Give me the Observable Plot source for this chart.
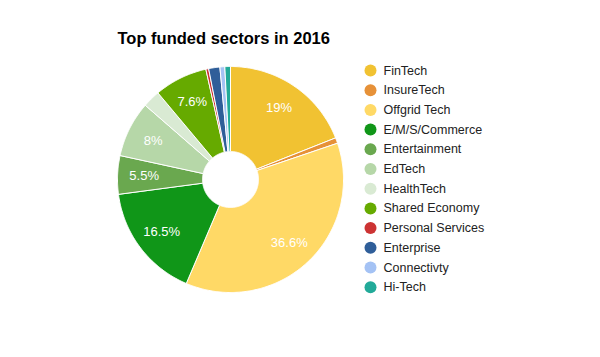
<!DOCTYPE html>
<html>
<head>
<meta charset="utf-8">
<script src="https://cdn.jsdelivr.net/npm/d3@7"></script>
<script src="https://cdn.jsdelivr.net/npm/@observablehq/plot@0.6"></script>
<style>
  html, body { margin: 0; padding: 0; background: #fff; }
  #chart { width: 600px; height: 357px; }
</style>
</head>
<body>
<div id="chart"></div>
<script>
const title = "Top funded sectors in 2016";
const sectors = ["FinTech", "InsureTech", "Offgrid Tech", "E/M/S/Commerce", "Entertainment", "EdTech", "HealthTech", "Shared Economy", "Personal Services", "Enterprise", "Connectivty", "Hi-Tech"];
const shares = [19, 0.8, 36.6, 16.5, 5.5, 8, 2.5, 7.6, 0.4, 1.6, 0.7, 0.8];
const colors = ["#f1c232", "#e69138", "#ffd966", "#109618", "#6aa84f", "#b6d7a8", "#d9ead3", "#66aa00", "#cc3333", "#2f5e99", "#a4c2f4", "#22aa99"];
const labelTexts = ["19%", "", "36.6%", "16.5%", "5.5%", "8%", "", "7.6%", "", "", "", ""];

// layout
const W = 600, H = 357;
const cx = 230, cy = 179, R = 113, r0 = 28;

const data = sectors.map((name, i) => ({name, value: shares[i], label: labelTexts[i], index: i}));
const arcs = d3.pie().sort(null).value(d => d.value)(data);

// polygon points for each slice (in pixel units)
const pts = [];
for (const a of arcs) {
  const n = Math.max(2, Math.ceil((a.endAngle - a.startAngle) / 0.01) + 1);
  const ring = [];
  for (let k = 0; k < n; k++) {
    const t = a.startAngle + (a.endAngle - a.startAngle) * k / (n - 1);
    ring.push({name: a.data.name, x: cx + R * Math.sin(t), y: cy - R * Math.cos(t)});
  }
  for (let k = n - 1; k >= 0; k--) {
    const t = a.startAngle + (a.endAngle - a.startAngle) * k / (n - 1);
    ring.push({name: a.data.name, x: cx + r0 * Math.sin(t), y: cy - r0 * Math.cos(t)});
  }
  ring.push({...ring[0]});
  pts.push(...ring);
}

const labels = arcs.filter(a => a.data.label).map(a => {
  const m = (a.startAngle + a.endAngle) / 2, lr = R * 0.765;
  return {text: a.data.label, x: cx + lr * Math.sin(m), y: cy - lr * Math.cos(m)};
});

const legend = data.map((d, i) => ({name: d.name, x: 370, y: 70 + i * 19.7}));

const chart = Plot.plot({
  width: W, height: H,
  margin: 0,
  x: {domain: [0, W], range: [0, W], axis: null},
  y: {domain: [0, H], range: [0, H], axis: null},
  color: {domain: sectors, range: colors},
  style: {fontFamily: "Arial, 'Liberation Sans', sans-serif", background: "white"},
  marks: [
    Plot.line(pts, {x: "x", y: "y", z: "name", fill: "name", stroke: "white", strokeWidth: 1, curve: "linear"}),
    Plot.text(labels, {x: "x", y: "y", text: "text", fill: "white", fontSize: 13}),
    Plot.dot(legend, {x: "x", y: "y", r: 6, fill: "name", stroke: null}),
    Plot.text(legend, {x: d => d.x + 13, y: "y", text: "name", textAnchor: "start", fill: "#222", fontSize: 12.5}),
    Plot.text([title], {x: () => 117, y: () => 38, text: d => d, textAnchor: "start", fontWeight: "bold", fontSize: 16.5, fill: "#000"})
  ]
});
document.getElementById("chart").appendChild(chart);
</script>
</body>
</html>
